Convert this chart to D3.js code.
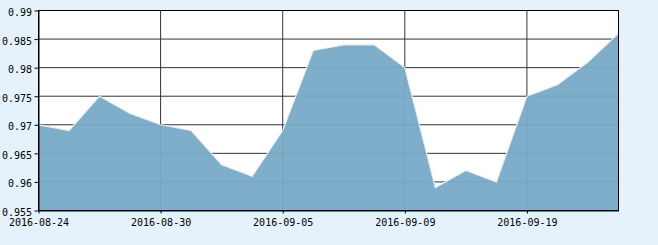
<!DOCTYPE html>
<html>
<head>
<meta charset="utf-8">
<script src="https://cdn.jsdelivr.net/npm/d3@7"></script>
<style>
  html, body { margin: 0; padding: 0; background: #e6f2fb; }
  #chart { width: 658px; height: 245px; }
  .axis text { font-family: "DejaVu Sans Mono", monospace; font-size: 10px; fill: #000; }
  .axis path, .axis line { stroke: #000; }
</style>
</head>
<body>
<div id="chart"></div>
<script>
// trading days, 2016-08-24 .. 2016-09-22
const dates = [
    '2016-08-24', '2016-08-25', '2016-08-26', '2016-08-29', '2016-08-30',
    '2016-08-31', '2016-09-01', '2016-09-02', '2016-09-05', '2016-09-06',
    '2016-09-07', '2016-09-08', '2016-09-09', '2016-09-12', '2016-09-13',
    '2016-09-14', '2016-09-19', '2016-09-20', '2016-09-21', '2016-09-22'
];
const values = [
    0.970, 0.969, 0.975, 0.972, 0.970,
    0.969, 0.963, 0.961, 0.969, 0.983,
    0.984, 0.984, 0.980, 0.959, 0.962,
    0.960, 0.975, 0.977, 0.981, 0.986
];
const xTickLabels = ['2016-08-24', '2016-08-30', '2016-09-05', '2016-09-09', '2016-09-19'];
const yTicks = [0.955, 0.96, 0.965, 0.97, 0.975, 0.98, 0.985, 0.99];

function drawChart() {
    const container = d3.select('#chart');
    container.html('');

    const margin = { top: 10.5, right: 39.5, bottom: 34.5, left: 38.5 };
    const totalW = 658, totalH = 245;
    const width = totalW - margin.left - margin.right;
    const height = totalH - margin.top - margin.bottom;

    const svg = container.append('svg')
        .attr('width', totalW)
        .attr('height', totalH)
        .append('g')
        .attr('transform', `translate(${margin.left},${margin.top})`);

    const data = dates.map((d, i) => ({ date: d, value: values[i] }));

    // Scales
    const x = d3.scalePoint()
        .domain(dates)
        .range([0, width]);

    const y = d3.scaleLinear()
        .domain([yTicks[0], yTicks[yTicks.length - 1]])
        .range([height, 0]);

    // Plot background
    svg.append('rect')
        .attr('width', width)
        .attr('height', height)
        .attr('fill', '#fff');

    // Grid
    svg.append('g')
        .selectAll('line.h')
        .data(yTicks)
        .enter()
        .append('line')
        .attr('x1', 0)
        .attr('x2', width)
        .attr('y1', d => y(d))
        .attr('y2', d => y(d))
        .attr('stroke', '#333');

    svg.append('g')
        .selectAll('line.v')
        .data(xTickLabels)
        .enter()
        .append('line')
        .attr('x1', d => x(d))
        .attr('x2', d => x(d))
        .attr('y1', 0)
        .attr('y2', height)
        .attr('stroke', '#333');

    // Area
    const area = d3.area()
        .x(d => x(d.date))
        .y0(height)
        .y1(d => y(d.value));

    svg.append('path')
        .datum(data)
        .attr('fill', '#77aac6')
        .attr('fill-opacity', 0.95)
        .attr('d', area);

    const line = d3.line()
        .x(d => x(d.date))
        .y(d => y(d.value));

    svg.append('path')
        .datum(data)
        .attr('fill', 'none')
        .attr('stroke', '#e4f1f9')
        .attr('stroke-width', 1.2)
        .attr('d', line);

    // Frame
    svg.append('rect')
        .attr('width', width)
        .attr('height', height)
        .attr('fill', 'none')
        .attr('stroke', '#000');

    // Axes
    svg.append('g')
        .attr('class', 'axis')
        .attr('transform', `translate(0,${height})`)
        .call(d3.axisBottom(x)
            .tickValues(xTickLabels)
            .tickSize(3)
            .tickSizeOuter(0)
            .tickPadding(5.5));

    svg.append('g')
        .attr('class', 'axis')
        .call(d3.axisLeft(y)
            .tickValues(yTicks)
            .tickSize(4)
            .tickSizeOuter(0)
            .tickPadding(2.5)
            .tickFormat(d => String(+d.toFixed(3))))
        .selectAll('text')
        .attr('dy', '0.5em');
}

drawChart();
</script>
</body>
</html>
